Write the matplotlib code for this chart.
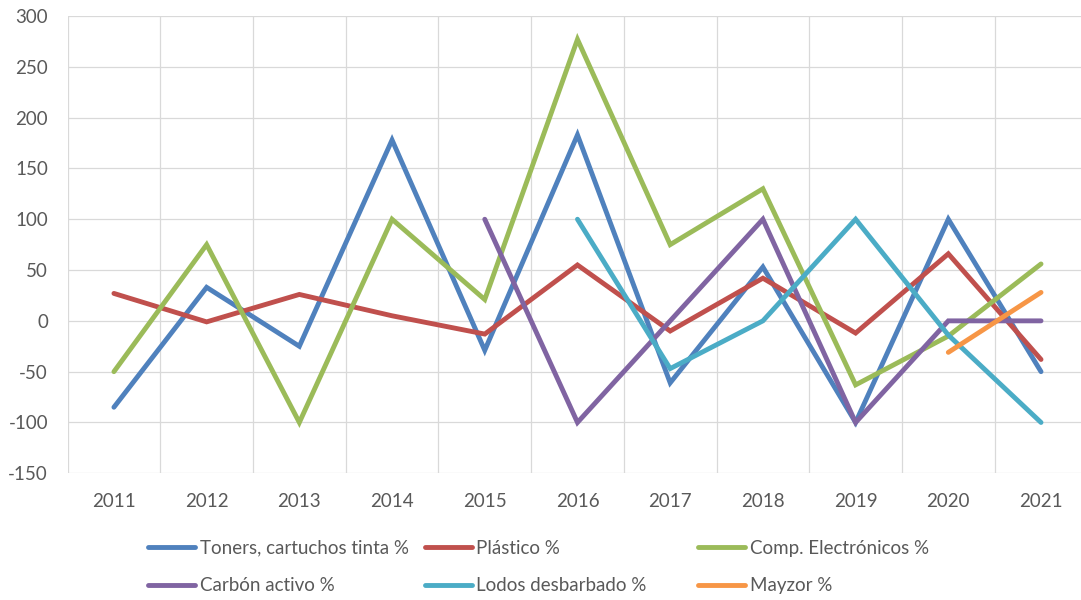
import numpy as np
import matplotlib.pyplot as plt

plt.rcParams['font.family'] = ['Lato', 'DejaVu Sans']
plt.rcParams['axes.unicode_minus'] = False

# Datos
years = ['2011', '2012', '2013', '2014', '2015', '2016', '2017', '2018', '2019', '2020', '2021']
nan = np.nan
toners = [-85, 33, -25, 178, -29, 183, -61, 53, -100, 100, -50]
plastico = [27, -1, 26, 5, -13, 55, -10, 42, -12, 66, -38]
electronicos = [-50, 75, -100, 100, 21, 277, 75, 130, -63, -15, 56]
carbon = [nan, nan, nan, nan, 100, -100, 0, 100, -100, 0, 0]
lodos = [nan, nan, nan, nan, nan, 100, -47, 0, 100, -14, -100]
mayzor = [nan, nan, nan, nan, nan, nan, nan, nan, nan, -31, 28]

series = [
    ("Toners, cartuchos tinta %", toners, "#4F81BD"),
    ("Plástico %", plastico, "#C0504D"),
    ("Comp. Electrónicos %", electronicos, "#9BBB59"),
    ("Carbón activo %", carbon, "#8064A2"),
    ("Lodos desbarbado %", lodos, "#4BACC6"),
    ("Mayzor %", mayzor, "#F79646"),
]

fig = plt.figure(figsize=(10.81, 6.0), dpi=100)
ax = fig.add_axes([0.0625, 0.2112, 0.9434, 0.7621])

x = np.arange(len(years))
lines = {}
for name, vals, color in series:
    ln, = ax.plot(x, vals, color=color, lw=3.5, label=name,
                  solid_capstyle='round', solid_joinstyle='miter')
    lines[name] = ln

ax.set_xlim(-0.5, len(years) - 0.5)
ax.set_ylim(-150, 300)
ax.set_yticks(np.arange(-150, 301, 50))
ax.set_xticks(x)
ax.set_xticklabels(years)
ax.set_xticks(np.arange(-0.5, len(years), 1), minor=True)

ax.grid(axis='y', which='major', color='#d9d9d9', lw=0.9)
ax.grid(axis='x', which='minor', color='#d9d9d9', lw=0.9)
ax.set_axisbelow(True)
for s in ax.spines.values():
    s.set_visible(False)

ax.tick_params(axis='both', which='both', length=0, labelsize=13.5, labelcolor='#595959')
ax.tick_params(axis='y', pad=14)
ax.tick_params(axis='x', pad=14)

# Leyenda en tres columnas de ancho fijo (estilo Excel)
cols = [
    (0.137, ["Toners, cartuchos tinta %", "Carbón activo %"]),
    (0.393, ["Plástico %", "Lodos desbarbado %"]),
    (0.646, ["Comp. Electrónicos %", "Mayzor %"]),
]
for xpos, names in cols:
    leg = fig.legend([lines[n] for n in names], names, loc='center left',
                     bbox_to_anchor=(xpos, 0.055), frameon=False, borderpad=0,
                     borderaxespad=0, handlelength=2.5, handletextpad=0.25,
                     labelspacing=1.1, fontsize=13.5, labelcolor='#595959')

fig.savefig("out.png", dpi=100)
